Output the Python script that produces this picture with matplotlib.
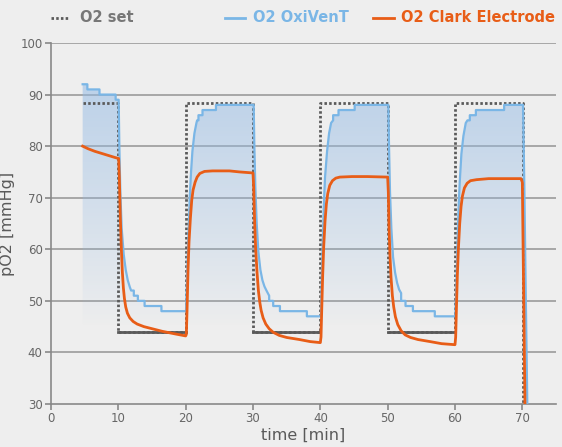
import numpy as np
import matplotlib
matplotlib.use("Agg")
import matplotlib.pyplot as plt
from matplotlib.lines import Line2D

# O2 set point (step profile)
set_t = [4.7, 10.0, 10.0, 20.0, 20.0, 30.0, 30.0, 40.0, 40.0, 50.0, 50.0, 60.0, 60.0, 70.1, 70.1]
set_v = [88.3, 88.3, 44.0, 44.0, 88.3, 88.3, 44.0, 44.0, 88.3, 88.3, 44.0, 44.0, 88.3, 88.3, 29.0]
set_low_level = 44.0

# O2 OxiVenT (stepped sensor readout)
oxi_t = [4.7, 5.4, 5.4, 7.2, 7.2, 9.6, 9.6, 10.05, 10.15, 10.3, 10.5, 10.8, 11.1, 11.4, 11.7, 11.9, 12.3, 12.3,
         12.9, 12.9, 13.9, 13.9, 16.4, 16.4, 20.05,
         20.15, 20.3, 20.45, 20.6, 20.8, 21.0, 21.3, 21.6, 21.7, 21.9, 21.9, 22.5, 22.5, 24.5, 24.5, 30.1,
         30.2, 30.35, 30.55, 30.8, 31.1, 31.4, 31.7, 32.0, 32.2, 32.4, 32.4, 33.0, 33.0, 34.0, 34.0,
         38.0, 38.0, 40.1,
         40.2, 40.35, 40.5, 40.7, 41.0, 41.3, 41.6, 41.9, 41.9, 42.7, 42.7, 45.1, 45.1, 50.1,
         50.2, 50.35, 50.55, 50.8, 51.1, 51.4, 51.7, 52.0, 52.0, 52.65, 52.65, 53.75, 53.75, 57.0, 57.0,
         60.05,
         60.2, 60.35, 60.5, 60.7, 60.95, 61.25, 61.6, 61.85, 62.2, 62.2, 63.1, 63.1, 67.3, 67.3, 70.1,
         70.3, 70.5, 70.75]
oxi_v = [92, 92, 91, 91, 90, 90, 89, 89, 80, 71, 64, 59, 56, 54, 52.7, 52, 52, 51,
         51, 50, 50, 49, 49, 48, 48,
         52, 58, 64, 70, 75, 79, 82.5, 84.5, 85, 85, 86, 86, 87, 87, 88, 88,
         80, 72, 65, 59.5, 56, 54, 52.8, 52, 51.5, 51, 50, 50, 49, 49, 48,
         48, 47, 47,
         54, 61, 68, 74, 79, 82.5, 84.5, 85, 86, 86, 87, 87, 88, 88,
         80, 71, 64, 58.5, 55.5, 53.5, 52.2, 51.5, 50, 50, 49, 49, 48, 48, 47,
         47,
         53, 60, 67, 73, 78.5, 82, 84.5, 85, 85, 86, 86, 87, 87, 88, 88,
         72, 52, 29]

# O2 Clark Electrode
clark_t = [4.7, 5.5, 6.5, 7.5, 8.5, 9.5, 10.05,
           10.15, 10.3, 10.45, 10.6, 10.75, 10.9, 11.1, 11.35, 11.7, 12.2, 12.8, 13.8, 15.0, 16.5,
           18.4, 20.0,
           20.1, 20.2, 20.35, 20.5, 20.7, 20.9, 21.1, 21.4, 21.7, 22.1, 22.8, 24.0, 26.5, 28.0, 30.0,
           30.1, 30.25, 30.4, 30.6, 30.8, 31.0, 31.2, 31.5, 31.9, 32.4, 33.0, 33.9, 35.0, 36.9, 38.5,
           40.0,
           40.1, 40.2, 40.35, 40.5, 40.7, 40.9, 41.1, 41.4, 41.8, 42.3, 42.9, 44.7, 47.0, 50.0,
           50.1, 50.2, 50.35, 50.5, 50.7, 50.9, 51.15, 51.5, 52.0, 52.6, 53.4, 54.5, 56.3, 58.0, 60.0,
           60.1, 60.2, 60.35, 60.5, 60.7, 60.9, 61.1, 61.4, 61.8, 62.3, 63.2, 65.0, 69.8, 70.0,
           70.4]
clark_v = [80.0, 79.5, 79.0, 78.6, 78.2, 77.8, 77.6,
           74, 66, 60, 55.5, 52.5, 50.5, 48.8, 47.6, 46.7, 46.0, 45.5, 45.0, 44.6, 44.1,
           43.6, 43.2,
           43.5, 48, 56, 61.5, 66, 69.5, 71.5, 73.0, 74.0, 74.7, 75.1, 75.2, 75.2, 75.0, 74.8,
           72, 65, 60, 55.5, 52, 49.8, 48.2, 46.7, 45.5, 44.6, 43.9, 43.3, 42.9, 42.5, 42.1,
           41.9,
           43, 48, 55, 60.5, 65.5, 68.8, 70.8, 72.4, 73.3, 73.8, 74.0, 74.1, 74.1, 74.0,
           71, 64.5, 58.5, 54.5, 51.0, 48.8, 46.9, 45.4, 44.2, 43.4, 42.9, 42.5, 42.1, 41.7, 41.5,
           43, 48, 55, 60, 65, 68.3, 70.3, 71.9, 72.8, 73.3, 73.5, 73.7, 73.7, 73.0,
           29]

x_ticks = [0, 10, 20, 30, 40, 50, 60, 70]
y_ticks = [30, 40, 50, 60, 70, 80, 90, 100]

BG = "#eeeeee"
GRID = "#9a9a9a"
SET_COLOR = "#5a5a5a"
OXI_COLOR = "#7ab6e6"
CLARK_COLOR = "#e85d17"

W, H = 562, 447
fig = plt.figure(figsize=(W / 100, H / 100), dpi=100, facecolor=BG)
ax = fig.add_axes([51 / W, 1 - 404 / H, (556 - 51) / W, (404 - 43) / H], facecolor=BG)

ax.set_xlim(0, 75)
ax.set_ylim(30, 100)

# gradient fill under the OxiVenT line
poly = ax.fill_between(oxi_t, oxi_v, 30, color="none", lw=0)
ys = np.linspace(30, 100, 300)
alpha = np.clip((ys - 45) / (92 - 45), 0, 1) ** 0.9 * 0.55
grad = np.zeros((len(ys), 1, 4))
grad[:, 0, 0] = 0.58
grad[:, 0, 1] = 0.73
grad[:, 0, 2] = 0.90
grad[:, 0, 3] = alpha
img = ax.imshow(grad, extent=[0, 75, 30, 100], origin="lower", aspect="auto", zorder=1)
img.set_clip_path(poly.get_paths()[0], transform=ax.transData)

for y in y_ticks[1:]:
    ax.axhline(y, color=GRID, lw=1.2, zorder=0.5)

# low set segments are drawn solid, the rest dotted
set_v_arr = np.array(set_v)
set_low = np.where(set_v_arr == set_low_level, set_v_arr, np.nan)

ax.plot(set_t, set_v, color=SET_COLOR, lw=2, linestyle=(0, (0.9, 0.8)), zorder=3)
ax.plot(set_t, set_low, color=SET_COLOR, lw=2, zorder=3)
ax.plot(oxi_t, oxi_v, color=OXI_COLOR, lw=1.6, zorder=4)
ax.plot(clark_t, clark_v, color=CLARK_COLOR, lw=2, zorder=5)

ax.set_xticks(x_ticks)
ax.set_yticks(y_ticks)
ax.tick_params(axis="both", colors="#888888", labelcolor="#666666", labelsize=8.5,
               length=4, width=1.2, direction="out", pad=2)
for side in ["top", "right"]:
    ax.spines[side].set_visible(False)
for side in ["left", "bottom"]:
    ax.spines[side].set_color("#888888")
    ax.spines[side].set_linewidth(1.2)

ax.set_xlabel("time [min]", fontsize=11.5, color="#5a5a5a", labelpad=2)
ax.set_ylabel("pO2 [mmHg]", fontsize=11.5, color="#5a5a5a", labelpad=4)

# legend drawn across the top of the figure
ly = 1 - 17.5 / H
entries = [
    (51, 68, 80, "O2 set", "#777777", SET_COLOR, (0, (0.9, 0.8))),
    (225, 245, 253, "O2 OxiVenT", OXI_COLOR, OXI_COLOR, "-"),
    (373, 394, 401, "O2 Clark Electrode", CLARK_COLOR, CLARK_COLOR, "-"),
]
for x0, x1, xt, label, tcolor, lcolor, ls in entries:
    fig.add_artist(Line2D([x0 / W, x1 / W], [ly, ly], color=lcolor, lw=2,
                          linestyle=ls, transform=fig.transFigure))
    fig.text(xt / W, ly, label, color=tcolor, fontsize=10.5, fontweight="bold",
             ha="left", va="center")

fig.savefig("out.png", dpi=100, facecolor=BG)
